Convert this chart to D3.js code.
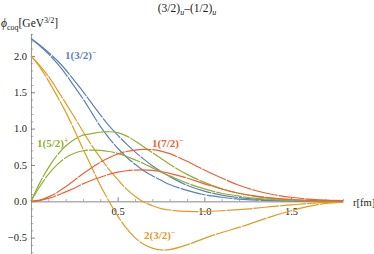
<!DOCTYPE html>
<html><head><meta charset="utf-8">
<script src="https://cdn.jsdelivr.net/npm/d3@7"></script>
<style>
body{margin:0;background:#fff;}
svg{display:block;}
text{font-family:"Liberation Serif","DejaVu Serif",serif;}
</style></head>
<body><svg id="c" width="374" height="254"></svg>
<script>
// r grid (fm)
const rGrid = [0,0.05,0.1,0.15,0.2,0.25,0.3,0.35,0.4,0.45,0.5,0.55,0.6,0.65,0.7,0.75,0.8,0.9,1.0,1.1,1.2,1.3,1.4,1.5,1.6,1.7,1.8];
// 1(3/2)- (two curves)
const blueA = [2.24,2.15,2.05,1.94,1.81,1.66,1.51,1.35,1.19,1.04,0.91,0.79,0.68,0.58,0.49,0.41,0.34,0.22,0.14,0.085,0.05,0.028,0.015,0.008,0.004,0.002,0.001];
const blueB = [2.24,2.14,2.03,1.90,1.75,1.58,1.41,1.22,1.03,0.87,0.73,0.61,0.51,0.42,0.35,0.29,0.23,0.15,0.09,0.055,0.03,0.016,0.008,0.004,0.002,0.001,0];
// 2(3/2)- (two curves)
const orangeA = [2.0,1.87,1.72,1.54,1.35,1.16,0.96,0.77,0.60,0.44,0.30,0.17,0.07,-0.01,-0.06,-0.10,-0.12,-0.14,-0.14,-0.13,-0.115,-0.095,-0.07,-0.05,-0.03,-0.015,-0.006];
const orangeB = [2.0,1.85,1.66,1.45,1.23,0.98,0.72,0.47,0.22,0.0,-0.20,-0.37,-0.50,-0.59,-0.645,-0.67,-0.665,-0.60,-0.51,-0.43,-0.36,-0.28,-0.20,-0.13,-0.07,-0.03,-0.012];
// 1(5/2)+ (two curves)
const greenA = [0,0.25,0.46,0.63,0.76,0.85,0.91,0.93,0.95,0.957,0.945,0.90,0.83,0.75,0.67,0.59,0.51,0.37,0.26,0.17,0.11,0.065,0.037,0.02,0.01,0.005,0.002];
const greenB = [0,0.20,0.37,0.50,0.60,0.66,0.695,0.705,0.70,0.685,0.66,0.62,0.57,0.52,0.46,0.40,0.35,0.25,0.17,0.11,0.07,0.04,0.022,0.011,0.005,0.002,0.001];
// 1(7/2)- (two curves)
const redA = [0,0.015,0.06,0.12,0.20,0.29,0.38,0.46,0.54,0.60,0.65,0.685,0.705,0.715,0.71,0.69,0.655,0.55,0.43,0.32,0.22,0.145,0.09,0.055,0.03,0.016,0.008];
const redB = [0,0.01,0.04,0.08,0.13,0.18,0.24,0.29,0.33,0.37,0.40,0.42,0.43,0.432,0.425,0.41,0.385,0.32,0.24,0.17,0.11,0.07,0.043,0.025,0.014,0.007,0.003];

const yMajor = [-0.5,0,0.5,1.0,1.5,2.0];
const yMinor = [-0.7,-0.6,-0.4,-0.3,-0.2,-0.1,0.1,0.2,0.3,0.4,0.6,0.7,0.8,0.9,1.1,1.2,1.3,1.4,1.6,1.7,1.8,1.9,2.1,2.2,2.3];
const xMajor = [0.5,1.0,1.5];
const xMinor = [0.1,0.2,0.3,0.4,0.6,0.7,0.8,0.9,1.1,1.2,1.3,1.4,1.6,1.7,1.8];

const SERIF = "Liberation Serif, DejaVu Serif, serif";
const series = [
  {v: blueA, c:"#5E81B5"},{v: blueB, c:"#5E81B5"},
  {v: orangeA, c:"#E19C24"},{v: orangeB, c:"#E19C24"},
  {v: greenA, c:"#8FB032"},{v: greenB, c:"#8FB032"},
  {v: redA, c:"#EB6235"},{v: redB, c:"#EB6235"}
];

const svg = d3.select("#c");
const x = d3.scaleLinear().domain([0,1.8]).range([31,343]);
const y = d3.scaleLinear().domain([-0.72,2.31]).range([253.6,33.4]);

const fmt = d => (d<0?"\u2212":"") + Math.abs(d).toFixed(1);

// y axis
const gy = svg.append("g").attr("transform",`translate(${x(0)},0)`)
  .call(d3.axisLeft(y).tickValues(yMajor).tickSizeInner(-4).tickSizeOuter(0).tickPadding(4).tickFormat(fmt));
gy.attr("font-family",SERIF).attr("font-size",10.5);
gy.select(".domain").attr("stroke","#999").attr("stroke-width",1);
gy.selectAll(".tick line").attr("stroke","#666").attr("stroke-width",0.8);
gy.selectAll(".tick text").attr("font-family",SERIF).attr("font-size",10.5).attr("fill","#222");
const gy2 = svg.append("g").attr("transform",`translate(${x(0)},0)`)
  .call(d3.axisLeft(y).tickValues(yMinor).tickSizeInner(-2.3).tickSizeOuter(0).tickFormat(""));
gy2.select(".domain").remove();
gy2.selectAll(".tick line").attr("stroke","#777").attr("stroke-width",0.6);

// x axis
const gx = svg.append("g").attr("transform",`translate(0,${y(0)})`)
  .call(d3.axisBottom(x).tickValues(xMajor).tickSizeInner(-4).tickSizeOuter(0).tickPadding(6).tickFormat(d=>d.toFixed(1)));
gx.attr("font-family",SERIF).attr("font-size",10.5);
gx.select(".domain").attr("stroke","#b0b0b0").attr("stroke-width",1.6);
gx.selectAll(".tick line").attr("stroke","#666").attr("stroke-width",0.8);
gx.selectAll(".tick text").attr("font-family",SERIF).attr("font-size",10.5).attr("fill","#222");
const gx2 = svg.append("g").attr("transform",`translate(0,${y(0)})`)
  .call(d3.axisBottom(x).tickValues(xMinor).tickSizeInner(-2.3).tickSizeOuter(0).tickFormat(""));
gx2.select(".domain").remove();
gx2.selectAll(".tick line").attr("stroke","#777").attr("stroke-width",0.6);

// curves
const line = d3.line().x((d,i)=>x(rGrid[i])).y(d=>y(d)).curve(d3.curveCatmullRom.alpha(0.5));
svg.append("g").selectAll("path").data(series).join("path")
  .attr("d", s=>line(s.v)).attr("fill","none").attr("stroke",s=>s.c)
  .attr("stroke-width",1.2).attr("stroke-dasharray","26,1");

// curve labels
function label(xp, yp, main, sup, col){
  const t = svg.append("text").attr("x",xp).attr("y",yp).attr("fill",col)
    .attr("font-family",SERIF).attr("font-size",11).attr("font-weight","bold");
  t.append("tspan").text(main);
  t.append("tspan").attr("font-size",7.5).attr("dy",-4).text(sup);
}
label(65,58.5,"1(3/2)","\u2212","#5E81B5");
label(37,146.5,"1(5/2)","+","#8FB032");
label(152,146.5,"1(7/2)","\u2212","#EB6235");
label(144,238.5,"2(3/2)","\u2212","#E19C24");

// title
const tt = svg.append("text").attr("x",187).attr("y",12).attr("text-anchor","middle")
  .attr("font-family",SERIF).attr("font-size",11.5).attr("fill","#222");
tt.append("tspan").text("(3/2)");
tt.append("tspan").attr("font-size",8).attr("font-style","italic").attr("dy",2.5).text("u");
tt.append("tspan").attr("dy",-2.5).text("\u2013(1/2)");
tt.append("tspan").attr("font-size",8).attr("font-style","italic").attr("dy",2.5).text("u");

// y label
const yl = svg.append("text").attr("x",1).attr("y",27).attr("font-family",SERIF).attr("font-size",11.5).attr("fill","#222");
yl.append("tspan").attr("font-style","italic").text("\u03D5");
yl.append("tspan").attr("font-size",8).attr("dy",2.5).text("coq");
yl.append("tspan").attr("dy",-2.5).text("[GeV");
yl.append("tspan").attr("font-size",8).attr("dy",-4.5).text("3/2");
yl.append("tspan").attr("dy",4.5).text("]");

// x label
svg.append("text").attr("x",353).attr("y",205.5).attr("font-family",SERIF).attr("font-size",10.5).attr("fill","#222").text("r[fm]");
</script></body></html>
